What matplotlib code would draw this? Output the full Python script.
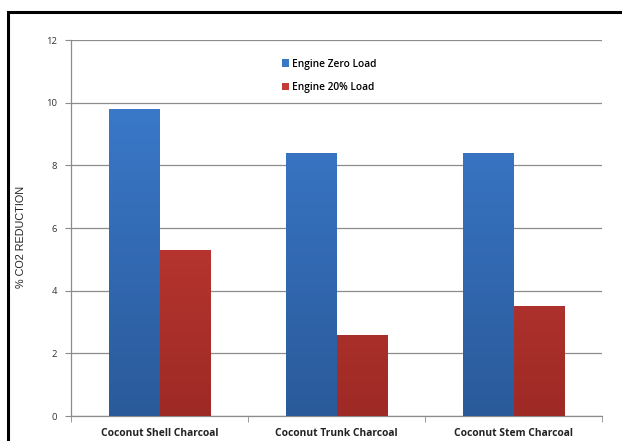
import matplotlib.pyplot as plt
from matplotlib.patches import Rectangle
from matplotlib.colors import LinearSegmentedColormap
import numpy as np

categories = ["Coconut Shell Charcoal", "Coconut Trunk Charcoal", "Coconut Stem Charcoal"]
zero_load = [9.8, 8.4, 8.4]
load_20 = [5.3, 2.6, 3.5]
series_names = ["Engine Zero Load", "Engine 20% Load"]
yticks = [0, 2, 4, 6, 8, 10, 12]

lbl_font = ["Open Sans", "DejaVu Sans"]

fig = plt.figure(figsize=(6.22, 4.41), dpi=100)
ax = fig.add_axes([71/622, 1 - 416/441, (602 - 71)/622, (416 - 40)/441])

# outer frame, only left and top edges visible in the picture
fig.patches.append(Rectangle((8/622, -0.1), 1.2, 1 - 12/441 + 0.1,
                             transform=fig.transFigure, fill=False,
                             edgecolor="black", linewidth=2.2, zorder=10))

x = np.arange(len(categories))
w = 0.283

blue_cm = LinearSegmentedColormap.from_list("b", ["#2a5a9a", "#3d7fd3"])
red_cm = LinearSegmentedColormap.from_list("r", ["#9e2a25", "#d2403b"])

def grad_bars(xs, vals, cmap, label, color):
    bars = ax.bar(xs, vals, w, color=color, label=label, zorder=2)
    grad = np.linspace(0, 1, 256).reshape(-1, 1)
    for b in bars:
        bx, bw = b.get_x(), b.get_width()
        im = ax.imshow(grad, cmap=cmap, origin="lower", aspect="auto",
                       extent=[bx, bx + bw, 0, 12], zorder=3)
        im.set_clip_path(b)
    return bars

grad_bars(x - w/2, zero_load, blue_cm, series_names[0], "#3a77c4")
grad_bars(x + w/2, load_20, red_cm, series_names[1], "#c43a34")

ax.set_xlim(-0.5, 2.5)
ax.set_ylim(0, 12)
ax.set_yticks(yticks)
ax.set_yticklabels([str(t) for t in yticks], fontsize=6.8, family=lbl_font, color="#333333")
ax.grid(axis="y", color="#8c8c8c", linewidth=0.9, zorder=0)
ax.set_axisbelow(True)

ax.set_xticks(x)
ax.set_xticklabels(categories, fontsize=7.4, fontweight="bold", family=lbl_font, color="#222222")
ax.set_xticks([-0.5, 0.5, 1.5, 2.5], minor=True)
ax.tick_params(axis="x", which="major", length=0, pad=9)
ax.tick_params(axis="x", which="minor", length=4, color="#8c8c8c", direction="out")
ax.tick_params(axis="y", length=4, color="#8c8c8c", pad=6)

for s in ["top", "right"]:
    ax.spines[s].set_visible(False)
for s in ["left", "bottom"]:
    ax.spines[s].set_color("#8c8c8c")
    ax.spines[s].set_linewidth(0.9)

ax.set_ylabel("% CO2 REDUCTION", fontsize=7.8, family=["Liberation Sans", "DejaVu Sans"],
              color="#222222")
ax.yaxis.set_label_coords(-0.085, 0.475)

leg = ax.legend(loc="upper left", bbox_to_anchor=(0.38, 0.975), frameon=False,
                prop={"family": lbl_font, "size": 7.3, "weight": "semibold"},
                handlelength=0.7, handleheight=0.7, handletextpad=0.3, labelspacing=1.2)
for h, c in zip(leg.legend_handles, ["#3a77c4", "#c43a34"]):
    h.set_facecolor(c)

fig.savefig("out.png", dpi=100)
